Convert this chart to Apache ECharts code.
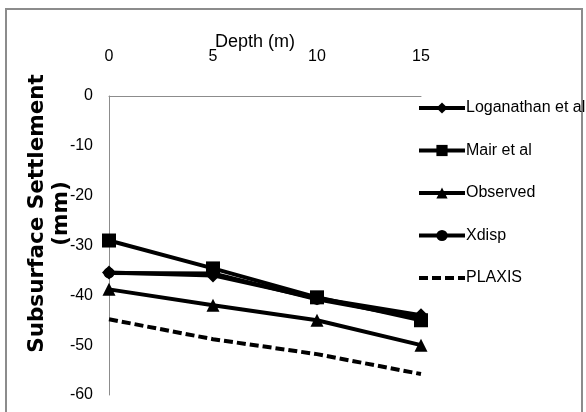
<!DOCTYPE html>
<html>
<head>
<meta charset="utf-8">
<script src="https://cdn.jsdelivr.net/npm/echarts@6/dist/echarts.min.js"></script>
<style>
  html, body { margin: 0; padding: 0; background: #fff; }
  #frame { position: absolute; left: 5px; top: 8px; width: 578px; height: 410px; border: 2px solid #8c8c8c; box-sizing: border-box; }
  #chart { position: absolute; left: 0; top: 0; width: 586px; height: 412px; }
</style>
</head>
<body>
<div id="frame"></div>
<div id="chart"></div>
<script>
// Depth positions along the tunnel profile (m)
const depths = [0, 5, 10, 15];
const xTicks = [0, 5, 10, 15];
const yTicks = [0, -10, -20, -30, -40, -50, -60];

// Subsurface settlement (mm) for each method
const loganathan = [-35.4, -36.0, -40.6, -44.0];
const mair = [-29.0, -34.6, -40.4, -45.0];
const observed = [-38.8, -42.0, -45.0, -50.0];
const xdisp = [-35.5, -35.6, -40.8, -44.6];
const plaxis = [-44.8, -48.8, -51.8, -55.8];

const font = '"Liberation Sans", sans-serif';

function pairs(vals) {
  return depths.map((d, i) => [d, vals[i]]);
}

function lineSeries(name, vals, symbol, size, dashed) {
  return {
    name: name,
    type: 'line',
    data: pairs(vals),
    symbol: symbol,
    symbolSize: size,
    showSymbol: !dashed,
    lineStyle: { color: '#000', width: 4, type: dashed ? [9, 4] : 'solid' },
    itemStyle: { color: '#000' },
    emphasis: { disabled: true },
    animation: false
  };
}

const legendLine = { color: '#000', width: 4 };

const chart = echarts.init(document.getElementById('chart'));
chart.setOption({
  animation: false,
  grid: { left: 109, right: 165, top: 96, bottom: 17, outerBoundsMode: 'none', containLabel: false },
  xAxis: {
    type: 'value',
    position: 'top',
    min: 0, max: 15, interval: 5,
    name: 'Depth (m)',
    nameLocation: 'middle',
    nameGap: 45,
    nameMoveOverlap: false,
    nameTextStyle: { fontFamily: font, fontSize: 18, color: '#000', padding: [0, 0, 0, -20] },
    axisLine: { show: true, onZero: false, lineStyle: { color: '#8c8c8c', width: 1 } },
    axisTick: { show: false },
    splitLine: { show: false },
    axisLabel: { margin: 31, fontFamily: font, fontSize: 16, color: '#000',
      formatter: v => xTicks.includes(v) ? String(v) : '' }
  },
  yAxis: {
    type: 'value',
    min: -60, max: 0, interval: 10,
    name: 'Subsurface Settlement\n(mm)',
    nameLocation: 'middle',
    nameGap: 36,
    nameMoveOverlap: false,
    nameRotate: 90,
    nameTextStyle: { fontFamily: '"DejaVu Sans", sans-serif', fontWeight: 'bold', fontSize: 21.5, color: '#000', lineHeight: 24, padding: [0, 0, 0, 64] },
    axisLine: { show: true, onZero: false, lineStyle: { color: '#8c8c8c', width: 1 } },
    axisTick: { show: false },
    splitLine: { show: false },
    axisLabel: { margin: 16, fontFamily: font, fontSize: 16, color: '#000',
      formatter: v => yTicks.includes(v) ? String(v) : '' }
  },
  legend: {
    orient: 'vertical',
    left: 412,
    top: 95,
    itemWidth: 46,
    itemHeight: 14,
    itemGap: 26.5,
    textStyle: { fontFamily: font, fontSize: 16, color: '#000', padding: [0, 0, 0, -4] },
    data: [
      { name: 'Loganathan et al', lineStyle: legendLine },
      { name: 'Mair et al', lineStyle: legendLine },
      { name: 'Observed', lineStyle: legendLine },
      { name: 'Xdisp', lineStyle: legendLine },
      { name: 'PLAXIS', lineStyle: legendLine, itemStyle: { opacity: 0 } }
    ]
  },
  series: [
    lineSeries('Loganathan et al', loganathan, 'diamond', 14, false),
    lineSeries('Mair et al', mair, 'rect', 14, false),
    lineSeries('Observed', observed, 'triangle', 13, false),
    lineSeries('Xdisp', xdisp, 'circle', 11, false),
    lineSeries('PLAXIS', plaxis, 'none', 0, true)
  ]
});
</script>
</body>
</html>
